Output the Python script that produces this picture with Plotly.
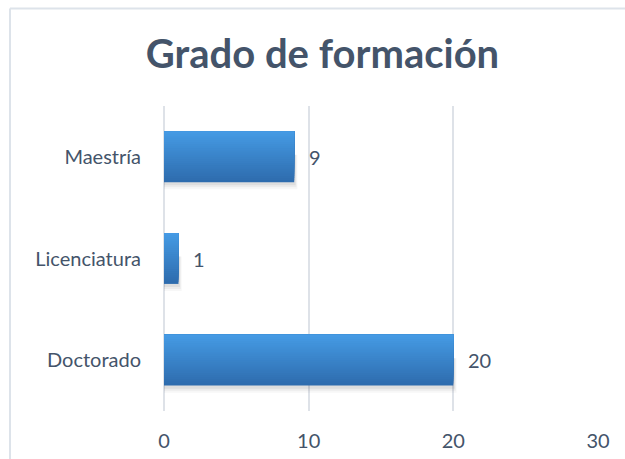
import numpy as np
import plotly.graph_objects as go

categories = ["Doctorado", "Licenciatura", "Maestría"]
values = [20, 1, 9]
x_ticks = [0, 10, 20, 30]
title_text = "Grado de formación"

TEXT = "#44546A"
FONT = "Lato"

fig = go.Figure()

bar_half = 0.25
# soft shadow under bars
for i, (dx, op, w) in enumerate([(0.22, 0.03, 0.09), (0.16, 0.045, 0.07), (0.1, 0.06, 0.05)]):
    fig.add_trace(go.Bar(
        y=categories, x=[v + dx for v in values], orientation="h",
        width=w + 0.25, offset=-bar_half - w + 0.02,
        marker=dict(color=f"rgba(0,0,0,{op})", line=dict(width=0)),
        hoverinfo="skip", showlegend=False))

# gradient bars built from stacked layers (bottom dark -> top light)
n = 24
top = np.array([0x46, 0x9A, 0xE4])
bot = np.array([0x2E, 0x6C, 0xAE])
strip = 2 * bar_half / n
for k in range(n):
    t = k / (n - 1)
    c = bot + (top - bot) * t
    fig.add_trace(go.Bar(
        y=categories, x=values, orientation="h",
        width=2 * bar_half - k * strip, offset=-bar_half + k * strip,
        marker=dict(color=f"rgb({int(c[0])},{int(c[1])},{int(c[2])})", line=dict(width=0)),
        hoverinfo="skip", showlegend=False))

annotations = [
    dict(x=v, y=c, xref="x", yref="y", text=str(v), showarrow=False,
         xanchor="left", yanchor="middle", xshift=13,
         font=dict(family=FONT, size=20, color=TEXT))
    for c, v in zip(categories, values)
]

fig.update_layout(
    width=625, height=459,
    margin=dict(l=164, r=27, t=106, b=48, autoexpand=False),
    paper_bgcolor="white", plot_bgcolor="white",
    barmode="overlay",
    title=dict(text=f"<b>{title_text}</b>", x=0.516, xanchor="center",
               y=0.883, yanchor="middle",
               font=dict(family=FONT, size=40, color=TEXT)),
    xaxis=dict(range=[0, 30], tickvals=x_ticks, ticktext=[str(t) for t in x_ticks],
               showgrid=True, gridcolor="#DEE2E8", gridwidth=1.5,
               zeroline=True, zerolinecolor="#DEE2E8", zerolinewidth=1.5,
               showline=False, ticks="", automargin=False,
               tickfont=dict(family=FONT, size=20, color=TEXT), ticklabelstandoff=16),
    yaxis=dict(categoryorder="array", categoryarray=categories, range=[-0.5, 2.5],
               showgrid=False, zeroline=False, showline=False, ticks="", automargin=False,
               tickfont=dict(family=FONT, size=20, color=TEXT), ticklabelstandoff=22),
    annotations=annotations,
    shapes=[
        dict(type="line", xref="paper", yref="paper", x0=-0.355, x1=1.2, y0=1.3197, y1=1.3197,
             line=dict(color="#DDE3EA", width=2)),
        dict(type="line", xref="paper", yref="paper", x0=-0.3548, x1=-0.3548, y0=1.3197, y1=-0.3,
             line=dict(color="#DDE3EA", width=2)),
    ],
)

fig.write_html("out.html", config={"displayModeBar": False},
               post_script="document.body.style.margin='0';document.body.style.overflow='hidden';")
